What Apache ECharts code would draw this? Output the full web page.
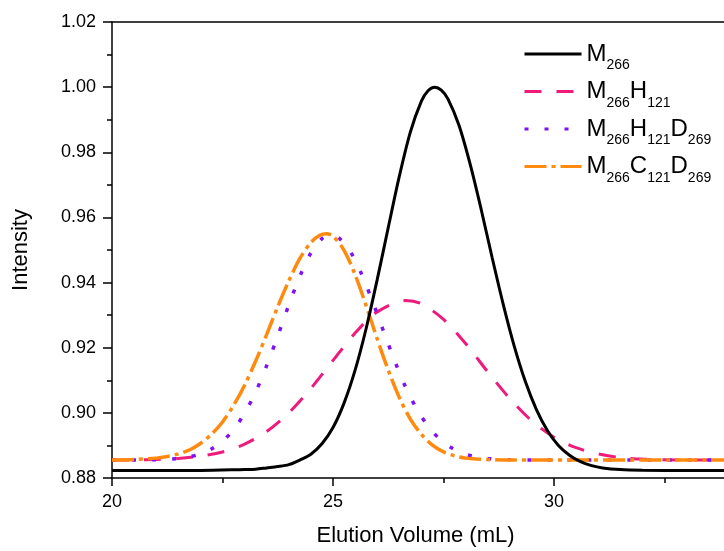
<!DOCTYPE html>
<html>
<head>
<meta charset="utf-8">
<script src="https://cdn.jsdelivr.net/npm/echarts@6/dist/echarts.min.js"></script>
<style>
html,body{margin:0;padding:0;background:#fff;}
#chart{width:724px;height:551px;}
</style>
</head>
<body>
<div id="chart"></div>
<script>
// Elution volume (mL) sample points and intensities
const xM266 = [20, 22, 23, 23.25, 23.5, 23.75, 24, 24.25, 24.5, 24.75, 25, 25.25, 25.5, 25.75, 26, 26.25, 26.5, 26.75, 27, 27.15, 27.3, 27.45, 27.6, 27.85, 28.1, 28.35, 28.6, 28.85, 29.1, 29.35, 29.6, 29.85, 30.1, 30.35, 30.6, 30.85, 31.1, 31.5, 32, 33, 35];
const yM266 = [0.8823, 0.8823, 0.8826, 0.8827, 0.8831, 0.8835, 0.8841, 0.8855, 0.8873, 0.8905, 0.8955, 0.9030, 0.9131, 0.9259, 0.9409, 0.9569, 0.9726, 0.9862, 0.9957, 0.9989, 1.0000, 0.9991, 0.9964, 0.9883, 0.9765, 0.9626, 0.9477, 0.9334, 0.9205, 0.9097, 0.9011, 0.8946, 0.8900, 0.8870, 0.8850, 0.8838, 0.8831, 0.8826, 0.8824, 0.8823, 0.8823];

const xM266H121 = [20, 21, 21.5, 22, 22.5, 23, 23.5, 24, 24.5, 25, 25.5, 26, 26.65, 27, 27.5, 28, 28.5, 29, 29.5, 30, 30.5, 31, 31.5, 32, 33, 35];
const yM266H121 = [0.8855, 0.8857, 0.8860, 0.8867, 0.8880, 0.8904, 0.8943, 0.9000, 0.9075, 0.9161, 0.9245, 0.9310, 0.9345, 0.9335, 0.9287, 0.9213, 0.9126, 0.9044, 0.8975, 0.8925, 0.8893, 0.8874, 0.8863, 0.8858, 0.8855, 0.8855];

const xM266H121D269 = [20, 21, 21.5, 21.75, 22, 22.25, 22.5, 22.75, 23, 23.25, 23.5, 23.75, 24, 24.25, 24.5, 24.75, 24.95, 25.15, 25.4, 25.65, 25.9, 26.15, 26.4, 26.65, 26.9, 27.15, 27.4, 27.65, 27.9, 28.15, 28.5, 29, 30, 35];
const yM266H121D269 = [0.8855, 0.8856, 0.8860, 0.8865, 0.8874, 0.8889, 0.8913, 0.8948, 0.8999, 0.9064, 0.9145, 0.9236, 0.9331, 0.9419, 0.9491, 0.9535, 0.9546, 0.9535, 0.9493, 0.9425, 0.9340, 0.9248, 0.9158, 0.9077, 0.9011, 0.8959, 0.8921, 0.8895, 0.8878, 0.8867, 0.8860, 0.8856, 0.8855, 0.8855];

const xM266C121D269 = [20, 20.5, 21, 21.25, 21.5, 21.75, 22, 22.25, 22.5, 22.75, 23, 23.25, 23.5, 23.75, 24, 24.25, 24.5, 24.7, 24.85, 25, 25.25, 25.5, 25.75, 26, 26.25, 26.5, 26.75, 27, 27.25, 27.5, 27.75, 28, 28.25, 29, 35];
const yM266C121D269 = [0.8855, 0.8857, 0.8861, 0.8866, 0.8874, 0.8886, 0.8906, 0.8934, 0.8972, 0.9023, 0.9085, 0.9159, 0.9241, 0.9326, 0.9405, 0.9474, 0.9523, 0.9545, 0.9550, 0.9543, 0.9499, 0.9424, 0.9329, 0.9227, 0.9131, 0.9047, 0.8981, 0.8934, 0.8901, 0.8880, 0.8868, 0.8861, 0.8858, 0.8855, 0.8855];

const seriesNames = ['M266', 'M266H121', 'M266H121D269', 'M266C121D269'];
const xAxisTitle = 'Elution Volume (mL)';
const yAxisTitle = 'Intensity';

function pairs(xs, ys) { return xs.map((x, i) => [x, ys[i]]); }

// rich legend labels with subscripts
const legendRich = {
  M266: '{m|M}{s|266}',
  M266H121: '{m|M}{s|266}{m|H}{s|121}',
  M266H121D269: '{m|M}{s|266}{m|H}{s|121}{m|D}{s|269}',
  M266C121D269: '{m|M}{s|266}{m|C}{s|121}{m|D}{s|269}'
};

const FONT = '"Liberation Sans", Arial, sans-serif';

const chart = echarts.init(document.getElementById('chart'), null, {renderer: 'canvas'});
const common = {type: 'line', showSymbol: false, symbol: 'none', smooth: 0.3, clip: true};
chart.setOption({
  animation: false,
  backgroundColor: '#ffffff',
  grid: {left: 112, top: 22, bottom: 73, right: -51, containLabel: false, outerBoundsMode: 'none'},
  legend: {
    orient: 'vertical', left: 523, top: 42, padding: 0, itemGap: 7,
    itemWidth: 57, itemHeight: 14,
    data: seriesNames,
    lineStyle: {width: 3},
    itemStyle: {opacity: 0},
    formatter: name => legendRich[name],
    textStyle: {
      fontFamily: FONT, color: '#000',
      rich: {
        m: {fontSize: 24, fontFamily: FONT, color: '#000', lineHeight: 37, verticalAlign: 'middle'},
        s: {fontSize: 14, fontFamily: FONT, color: '#000', lineHeight: 16, verticalAlign: 'bottom'}
      }
    }
  },
  xAxis: [{
    type: 'value', min: 20, max: 35, interval: 5,
    name: xAxisTitle, nameLocation: 'middle', nameGap: 47,
    nameTextStyle: {fontFamily: FONT, fontSize: 22, color: '#000', padding: [0, 56, 0, 0]},
    axisLine: {show: true, onZero: false, lineStyle: {color: '#000', width: 1.5}},
    axisTick: {show: true, inside: false, length: 8, lineStyle: {color: '#000', width: 1.5}},
    minorTick: {show: true, splitNumber: 2, length: 5, lineStyle: {color: '#000', width: 1.5}},
    axisLabel: {fontFamily: FONT, fontSize: 18, color: '#000', margin: 15},
    splitLine: {show: false}
  }, {
    type: 'value', min: 20, max: 35, position: 'top',
    axisLine: {show: true, onZero: false, lineStyle: {color: '#000', width: 1.5}},
    axisTick: {show: false}, axisLabel: {show: false}, splitLine: {show: false}
  }],
  yAxis: [{
    type: 'value', min: 0.88, max: 1.02, interval: 0.02,
    name: yAxisTitle, nameLocation: 'middle', nameGap: 80,
    nameTextStyle: {fontFamily: FONT, fontSize: 22, color: '#000'},
    axisLine: {show: true, onZero: false, lineStyle: {color: '#000', width: 1.5}},
    axisTick: {show: true, inside: false, length: 9, lineStyle: {color: '#000', width: 1.5}},
    minorTick: {show: true, splitNumber: 2, length: 5, lineStyle: {color: '#000', width: 1.5}},
    axisLabel: {fontFamily: FONT, fontSize: 18, color: '#000', margin: 16, formatter: v => v.toFixed(2)},
    splitLine: {show: false}
  }],
  series: [
    Object.assign({}, common, {name: seriesNames[0], data: pairs(xM266, yM266), z: 5,
      itemStyle: {color: '#000000'}, lineStyle: {color: '#000000', width: 3, type: 'solid'}}),
    Object.assign({}, common, {name: seriesNames[1], data: pairs(xM266H121, yM266H121), z: 3,
      itemStyle: {color: '#EE1B7D'}, lineStyle: {color: '#EE1B7D', width: 3, type: [17, 15]}}),
    Object.assign({}, common, {name: seriesNames[2], data: pairs(xM266H121D269, yM266H121D269), z: 4,
      itemStyle: {color: '#7F12F5'}, lineStyle: {color: '#7F12F5', width: 3.5, type: [4, 16]}}),
    Object.assign({}, common, {name: seriesNames[3], data: pairs(xM266C121D269, yM266C121D269), z: 4,
      itemStyle: {color: '#FF8A0D'}, lineStyle: {color: '#FF8A0D', width: 3.5, type: [22, 5, 4, 5]}})
  ]
});
</script>
</body>
</html>
